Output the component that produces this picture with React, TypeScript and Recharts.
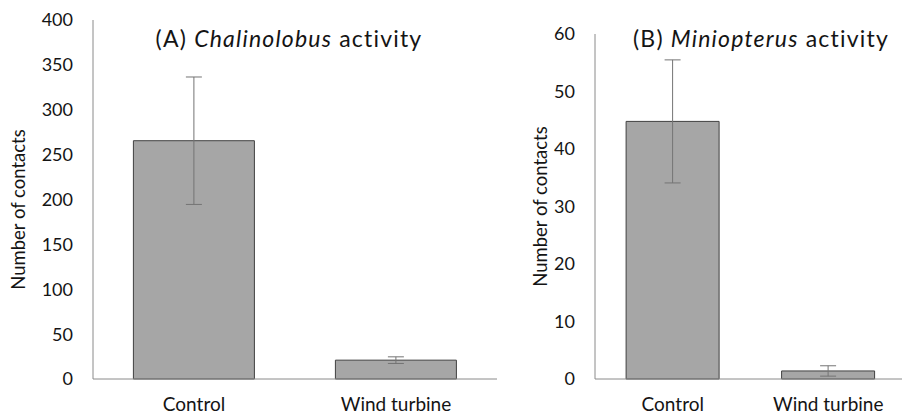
import React from 'react';
import { BarChart, Bar, XAxis, YAxis, ErrorBar } from 'recharts';

// values
const categories = ['Control', 'Wind turbine'];
const chalinolobusMean = [265.5, 21];
const chalinolobusErr = [71, 3.7];
const miniopterusMean = [44.8, 1.4];
const miniopterusErr = [10.7, 0.9];
const ticksA = [0, 50, 100, 150, 200, 250, 300, 350, 400];
const ticksB = [0, 10, 20, 30, 40, 50, 60];

const FONT = 'Lato, "Open Sans", sans-serif';
const TEXT = '#141414';
const AXIS = '#8a8a8a';

const dataA = categories.map((name, i) => ({ name, value: chalinolobusMean[i], err: chalinolobusErr[i] }));
const dataB = categories.map((name, i) => ({ name, value: miniopterusMean[i], err: miniopterusErr[i] }));

const yLabel = (dx: number, dy: number) => (props: any) => {
  const vb = props.viewBox || {};
  const x = vb.x + dx;
  const y = vb.y + vb.height / 2 + dy;
  return (
    <text x={x} y={y} transform={`rotate(-90, ${x}, ${y})`} textAnchor="middle" dominantBaseline="central"
      fill={TEXT} fontSize={18.5} fontFamily={FONT}>
      Number of contacts
    </text>
  );
};

const Panel = ({ data, ticks, max, width, axisWidth, top, labelDx, labelDy }: any) => (
  <BarChart width={width} height={414} data={data} margin={{ top, right: 0, bottom: 0, left: 0 }}
    barCategoryGap="20%">
    <XAxis dataKey="name" axisLine={{ stroke: AXIS }} tickLine={false} tickSize={0} tickMargin={19}
      height={414 - 379} tick={{ fill: TEXT, fontSize: 19, fontFamily: FONT }} interval={0} />
    <YAxis type="number" domain={[0, max]} ticks={ticks} width={axisWidth} axisLine={{ stroke: AXIS }}
      tickLine={false} tickSize={0} tickMargin={20} tick={{ fill: TEXT, fontSize: 18, fontFamily: FONT }}
      label={{ content: yLabel(labelDx, labelDy) }} />
    <Bar dataKey="value" fill="#a6a6a6" stroke="#404040" strokeWidth={1} isAnimationActive={false}>
      <ErrorBar dataKey="err" width={8} stroke="#747474" strokeWidth={1} direction="y" />
    </Bar>
  </BarChart>
);

const titleStyle = (cx: number): React.CSSProperties => ({
  position: 'absolute', left: cx, top: 38, transform: 'translate(-50%, -50%)', whiteSpace: 'nowrap',
  fontFamily: FONT, fontSize: 23, letterSpacing: 1.2, color: TEXT, lineHeight: 1,
});

export default function App() {
  return (
    <div style={{ position: 'absolute', left: 0, top: 0, width: 902, height: 414, overflow: 'hidden', background: '#fff' }}>
      <div style={{ position: 'absolute', left: 0, top: 0 }}>
        <Panel data={dataA} ticks={ticksA} max={400} width={497} axisWidth={93} top={20} labelDx={18} labelDy={10} />
      </div>
      <div style={{ position: 'absolute', left: 450, top: 0 }}>
        <Panel data={dataB} ticks={ticksB} max={60} width={456} axisWidth={145} top={34} labelDx={90} labelDy={0} />
      </div>
      <div style={titleStyle(289)}>
        (A) <i>Chalinolobus</i> activity
      </div>
      <div style={titleStyle(761)}>
        (B) <i>Miniopterus</i> activity
      </div>
    </div>
  );
}
